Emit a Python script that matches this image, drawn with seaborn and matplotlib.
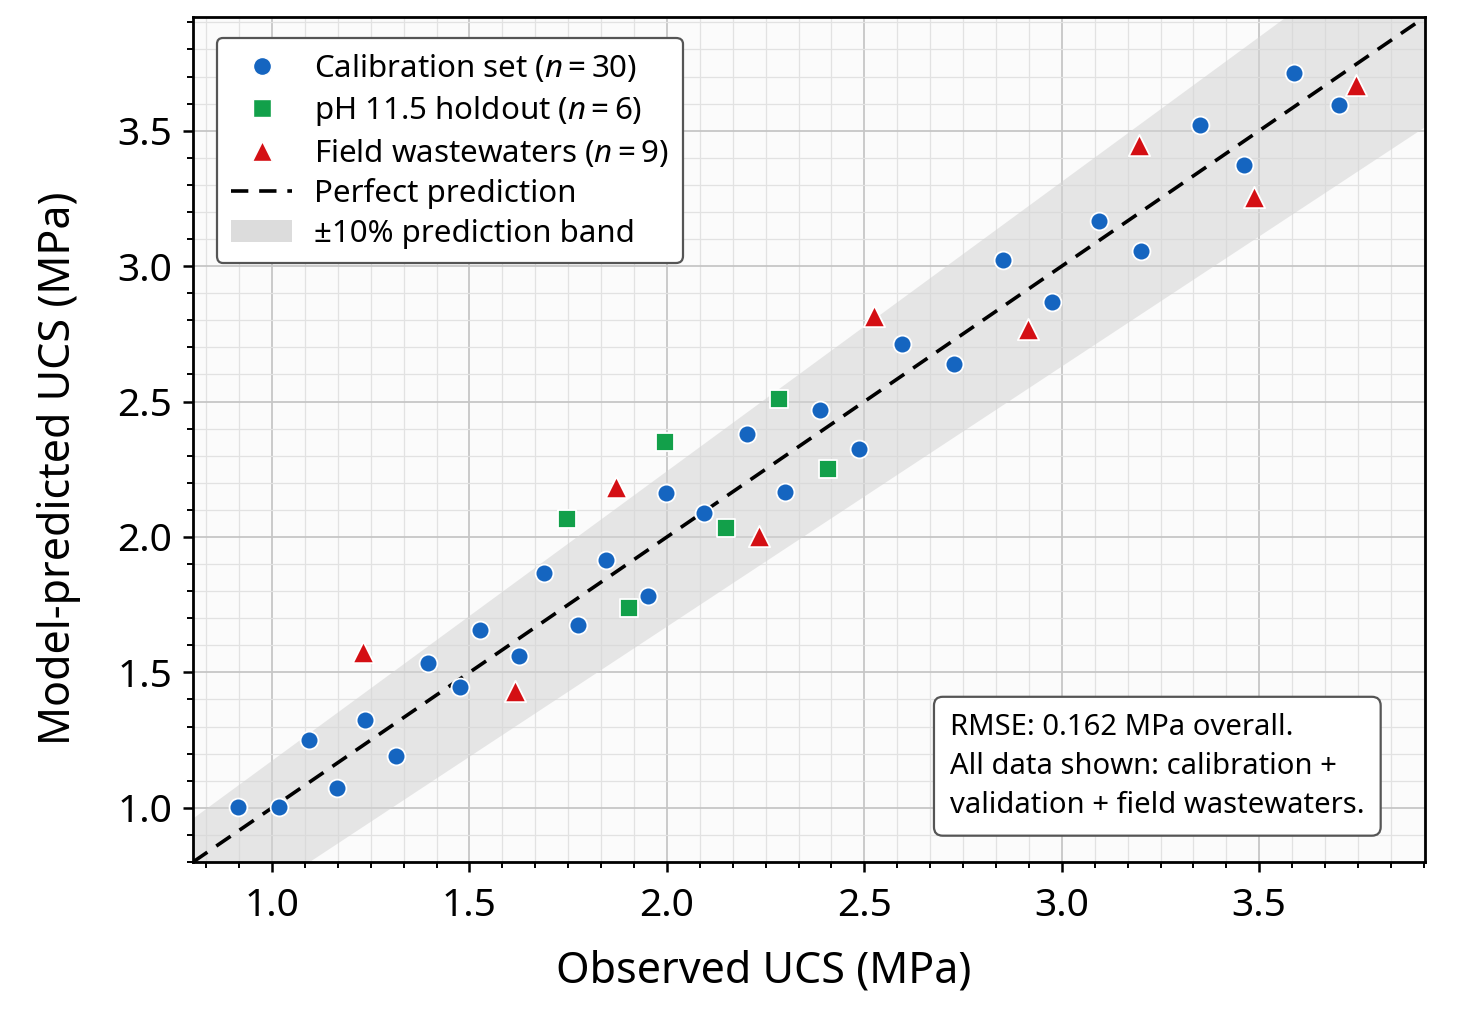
import numpy as np
import pandas as pd
import matplotlib
matplotlib.use("Agg")
import matplotlib.pyplot as plt
import seaborn as sns
from matplotlib.lines import Line2D
from matplotlib.patches import Patch
from matplotlib.ticker import MultipleLocator

# --- data (MPa) ---
calib_obs = [0.914, 1.018, 1.094, 1.165, 1.236, 1.314, 1.395, 1.476, 1.527, 1.626,
             1.689, 1.775, 1.846, 1.952, 1.998, 2.094, 2.203, 2.299, 2.388, 2.487,
             2.595, 2.727, 2.851, 2.975, 3.094, 3.201, 3.350, 3.461, 3.588, 3.702]
calib_pred = [1.004, 1.004, 1.252, 1.074, 1.326, 1.193, 1.534, 1.445, 1.656, 1.560,
              1.867, 1.674, 1.915, 1.782, 2.163, 2.089, 2.382, 2.167, 2.467, 2.326,
              2.712, 2.638, 3.023, 2.867, 3.168, 3.056, 3.520, 3.375, 3.712, 3.594]

holdout_obs = [1.747, 1.904, 1.995, 2.150, 2.284, 2.408]
holdout_pred = [2.067, 1.737, 2.349, 2.034, 2.508, 2.252]

field_obs = [1.230, 1.615, 1.871, 2.233, 2.524, 2.914, 3.196, 3.487, 3.745]
field_pred = [1.574, 1.430, 2.186, 2.004, 2.816, 2.767, 3.449, 3.256, 3.668]

# prediction band edges as drawn
band_x = [0.80, 3.92]
band_lo = [0.516, 3.513]
band_hi = [0.960, 4.295]

axis_lims = [0.80, 3.92]
major_ticks = [1.0, 1.5, 2.0, 2.5, 3.0, 3.5]

labels = ["Calibration set ($n=30$)", "pH 11.5 holdout ($n=6$)", "Field wastewaters ($n=9$)"]
colors = ["#1565c0", "#12a04a", "#d40f14"]
marker_kind = ["o", "s", "^"]
marker_area = [165, 185, 235]

groups = [
    pd.DataFrame({"observed": calib_obs, "predicted": calib_pred}),
    pd.DataFrame({"observed": holdout_obs, "predicted": holdout_pred}),
    pd.DataFrame({"observed": field_obs, "predicted": field_pred}),
]

sns.set_theme(style="white")
plt.rcParams["font.family"] = ["Noto Sans", "DejaVu Sans"]
plt.rcParams["mathtext.fontset"] = "custom"
plt.rcParams["mathtext.rm"] = "Noto Sans"
plt.rcParams["mathtext.it"] = "Noto Sans:italic"
for key in ["text.color", "axes.labelcolor", "xtick.color", "ytick.color"]:
    plt.rcParams[key] = "black"

fig = plt.figure(figsize=(14.76, 10.09), dpi=100)
ax = fig.add_axes([0.1308, 0.1457, 0.8347, 0.8375])
ax.set_facecolor("#fbfbfb")

ax.fill_between(band_x, band_lo, band_hi, color="#d4d4d4", alpha=0.55, lw=0, zorder=0.6)
ax.plot(axis_lims, axis_lims, color="black", lw=2.6, dashes=(4.8, 3.0), zorder=3)

for g, c, m, s in zip(groups, colors, marker_kind, marker_area):
    sns.scatterplot(data=g, x="observed", y="predicted", color=c, marker=m, s=s,
                    edgecolor="white", linewidth=1.3, legend=False, ax=ax, zorder=4)

ax.set_xlim(axis_lims)
ax.set_ylim(axis_lims)
ax.set_xticks(major_ticks)
ax.set_yticks(major_ticks)
ax.xaxis.set_minor_locator(MultipleLocator(0.5 / 6))
ax.yaxis.set_minor_locator(MultipleLocator(0.1))

ax.set_axisbelow(True)
ax.grid(which="major", color="#c6c6c6", lw=1.3, zorder=0.5)
ax.grid(which="minor", color="#e2e2e2", lw=0.9, zorder=0.5)

for sp in ax.spines.values():
    sp.set_color("black")
    sp.set_linewidth(2.0)
ax.tick_params(which="major", direction="out", length=7, width=1.8, labelsize=28,
               pad=8, bottom=True, left=True, top=False, right=False)
ax.tick_params(axis="x", which="major", pad=11)
ax.tick_params(which="minor", direction="out", length=4, width=1.4,
               bottom=True, left=True, top=False, right=False)

ax.set_xlabel("Observed UCS (MPa)", fontsize=31)
ax.set_ylabel("Model-predicted UCS (MPa)", fontsize=31)
ax.xaxis.set_label_coords(0.463, -0.103)
ax.yaxis.set_label_coords(-0.091, 0.466)

handles = [
    Line2D([0], [0], marker="o", ls="none", color=colors[0], markersize=13, markeredgecolor="white"),
    Line2D([0], [0], marker="s", ls="none", color=colors[1], markersize=13, markeredgecolor="white"),
    Line2D([0], [0], marker="^", ls="none", color=colors[2], markersize=14, markeredgecolor="white"),
    Line2D([0], [0], color="black", lw=2.6, dashes=(4.8, 3.0)),
    Patch(facecolor="#dcdcdc", edgecolor="none"),
]
leg_labels = labels + ["Perfect prediction", "±10% prediction band"]
leg = ax.legend(handles, leg_labels, loc="upper left", bbox_to_anchor=(0.0195, 0.975),
                borderaxespad=0, fontsize=22.5, frameon=True, fancybox=True,
                handlelength=1.95, handletextpad=0.7, labelspacing=0.3,
                borderpad=0.45)
leg.get_frame().set_edgecolor("#555555")
leg.get_frame().set_linewidth(1.6)
leg.get_frame().set_facecolor("white")
leg.get_frame().set_alpha(1)
leg.set_zorder(6)

note = ("RMSE: 0.162 MPa overall.\n"
        "All data shown: calibration +\n"
        "validation + field wastewaters.")
ax.text(0.6144, 0.1765, note, transform=ax.transAxes, ha="left", va="top",
        fontsize=21, linespacing=1.45, zorder=6,
        bbox=dict(boxstyle="round,pad=0.55,rounding_size=0.3", facecolor="white",
                  edgecolor="#555555", linewidth=1.6))

fig.savefig("out.png", dpi=100)
